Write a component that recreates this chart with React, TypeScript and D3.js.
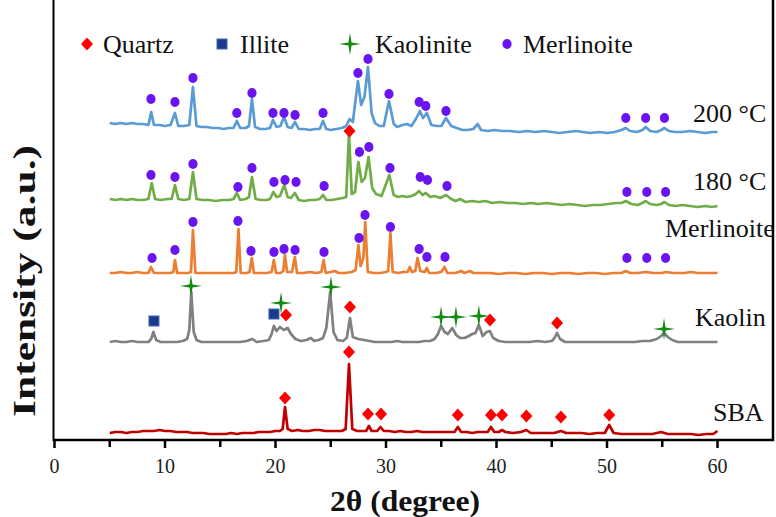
import * as d3 from "d3";
import React from "react";

const W = 776;
const H = 517;

// sample order, top to bottom
const samples = ["200 °C", "180 °C", "Merlinoite", "Kaolin", "SBA"];
const sampleColors = ["#5b9bd5", "#70ad47", "#ed7d31", "#808080", "#c00000"];
const sampleOffsets = [313, 240, 167, 98, 7];

const phases = ["Quartz", "Illite", "Kaolinite", "Merlinoite"];

// [2theta, relative intensity]
const trace200 = [
  [5, 4], [5.5, 3], [6, 4], [6.5, 3], [7, 4], [7.5, 3], [8, 3], [8.5, 2], [8.75, 15], [9.0, 2], [9.5, 2], [10, 1],
  [10.5, 2], [10.9, 14], [11.2, 1], [11.7, 1], [12.2, 2], [12.53, 40], [12.85, 1], [13.3, 0], [13.8, 0], [14.3, -1],
  [14.8, -1], [15.3, -2], [15.8, -1], [16.2, -1], [16.5, 6], [16.8, -1], [17.3, -1], [17.6, 1], [17.87, 28], [18.15, 0],
  [18.6, -2], [19.1, -2], [19.5, -1], [19.77, 7], [20.1, 0], [20.45, 1], [20.77, 10], [21.1, 0], [21.45, -1], [21.77, 5],
  [22.1, -2], [22.6, -2], [23.1, -3], [23.6, -2], [24.0, -2], [24.3, 6], [24.6, -2], [25.0, -3], [25.5, -2], [26.0, -1],
  [26.4, 1], [26.7, 8], [27.0, 5], [27.46, 46], [27.75, 22], [28.05, 30], [28.37, 60], [28.7, 14], [29.0, 4], [29.4, 1],
  [29.8, 1], [30.27, 26], [30.7, 3], [31.0, 0], [31.5, 2], [31.9, 3], [32.3, 1], [32.7, 8], [33.07, 16], [33.35, 9],
  [33.7, 14], [34.1, 2], [34.6, 1], [35.0, 1], [35.43, 9], [35.9, 1], [36.4, -1], [36.9, -3], [37.4, -3], [37.9, -2],
  [38.3, 3], [38.6, -3], [39.2, -4], [39.8, -3], [40.5, -4], [41.2, -4], [42.0, -5], [42.8, -4], [43.5, -5], [44.3, -4],
  [45.0, -5], [45.7, -6], [46.4, -5], [47.2, -4], [47.8, -5], [48.5, -6], [49.3, -5], [50.0, -6], [50.7, -5], [51.3, -3],
  [51.7, -1], [52.1, -4], [52.7, -5], [53.2, -3], [53.5, 0], [53.9, -4], [54.5, -5], [54.9, -3], [55.2, -1], [55.6, -4],
  [56.2, -5], [56.8, -5], [57.5, -4], [58.2, -5], [58.9, -6], [59.5, -5], [60, -5],
];

const trace180 = [
  [5, 1], [5.5, 0], [6, 1], [6.5, 0], [7, 1], [7.5, 0], [8, 0], [8.5, 1], [8.8, 17], [9.1, 1], [9.6, 0], [10.2, 1],
  [10.6, 1], [10.9, 15], [11.2, 1], [11.7, 0], [12.2, 1], [12.53, 28], [12.85, 1], [13.4, 0], [14, 0], [14.6, -1],
  [15.2, 0], [15.8, 0], [16.2, 1], [16.5, 7], [16.8, 0], [17.3, 1], [17.6, 3], [17.87, 23], [18.2, 1], [18.7, 0],
  [19.2, 0], [19.5, 1], [19.8, 8], [20.1, 3], [20.4, 4], [20.8, 15], [21.1, 3], [21.4, 2], [21.75, 7], [22.1, 0],
  [22.6, -1], [23.1, 0], [23.6, 0], [24.0, 1], [24.3, 5], [24.6, 0], [25.1, 0], [25.6, 1], [26.1, 2], [26.4, 3],
  [26.65, 67], [26.9, 6], [27.2, 8], [27.5, 38], [27.8, 18], [28.1, 22], [28.42, 43], [28.75, 12], [29.1, 6], [29.6, 4],
  [30.3, 25], [30.7, 5], [31.1, 3], [31.5, 4], [31.9, 3], [32.3, 4], [32.7, 6], [33.0, 9], [33.3, 5], [33.6, 7],
  [34.0, 3], [34.4, 4], [34.9, 2], [35.43, 5], [35.9, 1], [36.3, -1], [36.7, 1], [37.2, -2], [37.8, -1], [38.4, -2],
  [39.0, -1], [39.6, -3], [40.3, -2], [41.0, -3], [41.7, -3], [42.4, -4], [43.1, -3], [43.8, -4], [44.5, -3], [45.2, -4],
  [45.9, -5], [46.6, -4], [47.3, -5], [48.0, -6], [48.7, -5], [49.4, -5], [50.1, -4], [50.8, -3], [51.3, -3], [51.7, -1],
  [52.2, -4], [52.8, -5], [53.2, -3], [53.5, -1], [53.9, -4], [54.5, -5], [54.9, -4], [55.2, -2], [55.6, -5], [56.2, -6],
  [56.8, -5], [57.5, -6], [58.2, -7], [58.9, -6], [59.5, -7], [60, -6],
];

const traceMerl = [
  [5, 0], [5.5, 0], [6, 1], [6.5, 0], [7, 0], [7.5, 1], [8, 0], [8.5, 0], [8.73, 6], [9.0, 0], [9.5, 0], [10, 0],
  [10.5, 0], [10.75, 1], [10.9, 13], [11.1, 0], [11.6, 0], [12.1, 0], [12.35, 1], [12.53, 43], [12.75, 0], [13.3, 0],
  [13.9, 0], [14.5, 0], [15.1, 0], [15.7, 0], [16.2, 0], [16.45, 1], [16.65, 44], [16.85, 0], [17.4, 0], [17.65, 1],
  [17.85, 15], [18.05, 0], [18.6, 0], [19.2, 0], [19.65, 1], [19.85, 13], [20.05, 0], [20.45, 0], [20.7, 2], [20.85, 18],
  [21.05, 1], [21.5, 1], [21.75, 16], [21.95, 0], [22.5, 0], [23.1, 1], [23.7, 0], [24.15, 1], [24.35, 13], [24.55, 0],
  [25.0, 1], [25.4, 2], [25.7, 0], [26.3, 0], [26.9, 1], [27.25, 3], [27.5, 28], [27.7, 7], [27.95, 15], [28.12, 51],
  [28.35, 1], [28.9, 0], [29.5, 0], [30.0, 1], [30.2, 2], [30.4, 40], [30.6, 1], [31.1, 0], [31.6, 1], [31.95, 1],
  [32.15, 6], [32.35, 1], [32.65, 2], [32.85, 15], [33.1, 2], [33.5, 1], [33.7, 5], [33.9, 0], [34.5, 0], [35.0, 1],
  [35.3, 6], [35.55, 0], [36.3, 0], [36.8, 2], [37.1, 0], [37.6, 2], [37.9, 0], [38.6, 0], [39.4, 0], [40.2, -1],
  [41.0, 0], [41.8, 0], [42.6, -1], [43.4, 0], [44.2, 0], [45.0, -1], [45.8, 0], [46.6, 0], [47.4, -1], [48.2, 0],
  [49.0, 0], [49.8, -1], [50.6, 0], [51.3, 0], [51.7, 2], [52.1, 0], [52.8, 0], [53.5, 1], [54.2, 0], [55.0, 0],
  [55.3, 1], [56, 0], [57, 0], [57.6, 1], [58.2, 0], [59, 0], [60, 0],
];

const traceKaolin = [
  [5, 0], [5.5, 1], [6, 0], [6.5, 0], [7, 1], [7.5, 0], [8, 0], [8.5, 0], [8.75, 3], [8.95, 10], [9.2, 2], [9.6, 0],
  [10.1, 0], [10.6, 0], [11.1, 0], [11.6, 1], [12.0, 3], [12.2, 12], [12.38, 50], [12.6, 10], [12.85, 2], [13.3, 0],
  [13.8, 0], [14.4, 0], [15.0, 0], [15.6, 0], [16.2, 0], [16.8, 0], [17.4, 1], [17.9, 3], [18.3, 0], [18.9, 1],
  [19.4, 2], [19.65, 8], [19.85, 16], [20.1, 11], [20.4, 15], [20.75, 12], [21.1, 14], [21.4, 8], [21.8, 3], [22.3, 1],
  [22.8, 2], [23.2, 4], [23.5, 1], [23.9, 2], [24.3, 4], [24.6, 14], [24.95, 50], [25.25, 10], [25.6, 2], [26.1, 1],
  [26.45, 4], [26.74, 24], [27.0, 5], [27.5, 3], [28.0, 2], [28.5, 1], [29.0, 0], [29.5, 0], [30.0, 0], [30.5, 0],
  [31.0, 1], [31.5, 0], [32.0, 0], [32.5, 0], [33.0, 0], [33.5, 1], [34.0, 1], [34.4, 3], [34.7, 8], [34.98, 16],
  [35.3, 10], [35.6, 8], [36.0, 14], [36.35, 7], [36.7, 4], [37.1, 4], [37.5, 6], [37.8, 8], [38.1, 9], [38.4, 17],
  [38.75, 6], [39.1, 10], [39.4, 11], [39.7, 4], [40.2, 1], [40.8, 0], [41.5, 0], [42.2, 0], [43.0, 0], [43.7, 1],
  [44.4, 0], [45.0, 1], [45.25, 4], [45.48, 9], [45.75, 3], [46.2, 0], [46.9, 0], [47.6, 0], [48.3, 0], [49.0, 0],
  [49.7, 0], [50.4, 0], [51.1, 0], [51.8, 0], [52.5, 0], [53.2, 1], [53.9, 1], [54.5, 3], [54.9, 6], [55.16, 9],
  [55.5, 5], [55.9, 2], [56.4, 0], [57.0, 0], [57.7, 0], [58.4, 0], [59.1, 0], [60, 0],
];

const traceSBA = [
  [5, 0], [5.5, 1], [6, 1], [6.5, 0], [7, 1], [7.5, 1], [8, 2], [8.5, 2], [9, 2], [9.5, 3], [10, 2], [10.5, 2],
  [11, 1], [11.5, 1], [12, 1], [12.5, 0], [13, 0], [13.5, 0], [14, -1], [14.5, -1], [15, -1], [15.5, -1], [16, 0],
  [16.5, -1], [17, 0], [17.5, 0], [18, 0], [18.5, 1], [19, 1], [19.5, 1], [20, 2], [20.4, 2], [20.65, 4], [20.86, 26],
  [21.1, 4], [21.5, 2], [22, 3], [22.5, 2], [23, 2], [23.5, 3], [24, 3], [24.5, 2], [25, 2], [25.5, 2], [26, 2],
  [26.35, 4], [26.65, 69], [26.95, 4], [27.4, 2], [27.9, 2], [28.2, 2], [28.45, 7], [28.7, 2], [29.2, 2], [29.5, 6],
  [29.8, 2], [30.3, 2], [30.8, 1], [31.3, 2], [31.8, 1], [32.3, 1], [32.8, 2], [33.3, 1], [33.8, 1], [34.3, 1],
  [34.8, 1], [35.3, 1], [35.8, 1], [36.2, 1], [36.5, 6], [36.8, 1], [37.3, 1], [37.8, 0], [38.3, 1], [38.8, 1],
  [39.2, 1], [39.5, 6], [39.8, 1], [40.2, 1], [40.5, 3], [40.8, 1], [41.5, 0], [42.2, 1], [42.7, 3], [43.1, 0],
  [43.8, 0], [44.5, 0], [45.2, 0], [45.85, 2], [46.3, 0], [47, 0], [47.7, 0], [48.4, -1], [49.1, 0], [49.8, 0],
  [50.2, 8], [50.6, 0], [51.3, -1], [52.0, -1], [52.7, -1], [53.4, -1], [54.1, -1], [54.9, 1], [55.5, -1], [56.2, -1],
  [56.9, -1], [57.6, -1], [58.3, -2], [59, -1], [59.6, -1], [60, 2],
];

const traces = [trace200, trace180, traceMerl, traceKaolin, traceSBA];

// phase markers: [2theta, relative height] per sample
const merl200 = [
  [8.73, 28], [10.9, 25], [12.53, 49], [16.5, 14], [17.87, 34], [19.77, 14], [20.77, 14], [21.77, 12], [24.3, 14],
  [27.46, 54], [28.37, 68], [30.27, 33], [33.0, 25], [33.6, 21], [35.43, 16], [51.7, 9], [53.5, 9], [55.2, 9],
];
const merl180 = [
  [8.73, 25], [10.9, 23], [12.53, 36], [16.6, 13], [17.87, 32], [19.86, 18], [20.86, 20], [21.86, 18], [24.4, 14],
  [27.6, 48], [28.45, 53], [30.36, 32], [33.1, 23], [33.75, 20], [35.52, 14], [51.8, 8], [53.6, 8], [55.3, 8],
];
const merlRef = [
  [8.83, 15], [10.9, 23], [12.53, 51], [16.6, 52], [17.78, 22], [19.86, 21], [20.77, 24], [21.77, 23], [24.39, 21],
  [27.56, 35], [28.1, 58], [30.4, 46], [33.0, 24], [33.7, 16], [35.34, 16], [51.8, 15], [53.6, 15], [55.3, 15],
];
const quartz180 = [[26.7, 69]];
const illiteKaolin = [[9.0, 21], [19.86, 28]];
const kaoliniteKaolin = [
  [12.35, 56], [20.5, 39], [25.02, 55], [34.98, 25], [36.33, 25], [38.4, 26], [55.16, 13],
];
const quartzKaolin = [[20.95, 27], [26.74, 35], [39.41, 22], [45.48, 19]];
const quartzSBA = [
  [20.86, 35], [26.65, 81], [28.37, 19], [29.55, 19], [36.5, 18], [39.5, 18], [40.5, 18], [42.7, 17], [45.83, 16],
  [50.2, 18],
];

const markerSets = [
  { sample: 0, phase: "Merlinoite", pts: merl200 },
  { sample: 1, phase: "Merlinoite", pts: merl180 },
  { sample: 1, phase: "Quartz", pts: quartz180 },
  { sample: 2, phase: "Merlinoite", pts: merlRef },
  { sample: 3, phase: "Illite", pts: illiteKaolin },
  { sample: 3, phase: "Kaolinite", pts: kaoliniteKaolin },
  { sample: 3, phase: "Quartz", pts: quartzKaolin },
  { sample: 4, phase: "Quartz", pts: quartzSBA },
];

const xTicks = [0, 10, 20, 30, 40, 50, 60];
const xMinorTicks = [5, 15, 25, 35, 45, 55];

const SERIF = "'Liberation Serif', 'Times New Roman', serif";

const starPath = (R: number, r: number) => {
  const pts: string[] = [];
  for (let i = 0; i < 8; i++) {
    const a = (Math.PI / 4) * i - Math.PI / 2;
    const rad = i % 2 === 0 ? R : r;
    pts.push(`${(rad * Math.cos(a)).toFixed(2)},${(rad * Math.sin(a)).toFixed(2)}`);
  }
  return "M" + pts.join("L") + "Z";
};

const Marker = ({ phase, x, y }: { phase: string; x: number; y: number }) => {
  if (phase === "Quartz")
    return <path d="M0,-6.5L6,0L0,6.5L-6,0Z" transform={`translate(${x},${y})`} fill="#ff0000" />;
  if (phase === "Illite")
    return (
      <rect x={x - 5} y={y - 5} width={10} height={10} fill="#1c3a8c" stroke="#3f64b8" strokeWidth={1} />
    );
  if (phase === "Kaolinite")
    return <path d={starPath(11, 2.2)} transform={`translate(${x},${y})`} fill="#138a13" />;
  return <ellipse cx={x} cy={y} rx={4.6} ry={5} fill="#6a14f2" />;
};

const App = () => {
  const x = d3.scaleLinear().domain([0, 60]).range([54.5, 717.5]);
  const y = d3.scaleLinear().domain([0, 440]).range([440, 0]);
  const axisY = y(0);

  const line = (off: number) =>
    d3
      .line<number[]>()
      .x((d) => x(d[0]))
      .y((d) => y(d[1] + off))
      .curve(d3.curveLinear);

  const legendX = [87, 222, 350, 507];
  const legendTextX = [103, 240, 375, 523];

  // label anchors (px) for sample names
  const labelPos = [
    [693, 122],
    [693, 190],
    [665, 237],
    [695, 326],
    [713, 421],
  ];

  return (
    <svg
      width={W}
      height={H}
      style={{ position: "absolute", left: 0, top: 0, background: "#fff" }}
      fontFamily={SERIF}
    >
      <defs>
        <clipPath id="plotClip">
          <rect x={0} y={0} width={772} height={H} />
        </clipPath>
      </defs>
      <rect width={W} height={H} fill="#fff" />

      {/* legend */}
      {phases.map((p, i) => (
        <g key={p}>
          <Marker phase={p} x={legendX[i]} y={44} />
          <text x={legendTextX[i]} y={53} fontSize={26} fill="#111">
            {p}
          </text>
        </g>
      ))}

      <g clipPath="url(#plotClip)">
        {traces.map((t, i) => (
          <path
            key={samples[i]}
            d={line(sampleOffsets[i])(t) || ""}
            fill="none"
            stroke={sampleColors[i]}
            strokeWidth={2.7}
            strokeLinejoin="round"
          />
        ))}
        {markerSets.map((m, k) =>
          m.pts.map((p, j) => (
            <Marker key={`${k}-${j}`} phase={m.phase} x={x(p[0])} y={y(p[1] + sampleOffsets[m.sample])} />
          ))
        )}
        {samples.map((s, i) => (
          <text key={s} x={labelPos[i][0]} y={labelPos[i][1]} fontSize={26} fill="#111">
            {s}
          </text>
        ))}
      </g>

      {/* frame and x axis */}
      <line x1={53.5} x2={53.5} y1={0} y2={axisY + 1} stroke="#000" strokeWidth={2} />
      <line x1={773} x2={773} y1={0} y2={axisY + 1} stroke="#000" strokeWidth={2.5} />
      <line x1={53} x2={774} y1={axisY} y2={axisY} stroke="#000" strokeWidth={2.5} />
      {xTicks.map((t) => (
        <g key={t}>
          <line x1={x(t)} x2={x(t)} y1={axisY} y2={axisY + 8} stroke="#000" strokeWidth={2.5} />
          <text x={x(t)} y={473} fontSize={20} textAnchor="middle" fill="#222">
            {t}
          </text>
        </g>
      ))}
      {xMinorTicks.map((t) => (
        <line key={t} x1={x(t)} x2={x(t)} y1={axisY} y2={axisY + 7} stroke="#000" strokeWidth={2.5} />
      ))}

      <text
        x={405}
        y={511}
        fontSize={30}
        fontWeight="bold"
        textAnchor="middle"
        textLength={150}
        lengthAdjust="spacingAndGlyphs"
        fill="#111"
      >
        2θ (degree)
      </text>
      <text
        transform="translate(35,281) rotate(-90)"
        fontSize={32}
        fontWeight="bold"
        textAnchor="middle"
        textLength={272}
        lengthAdjust="spacingAndGlyphs"
        fill="#111"
      >
        Intensity (a.u.)
      </text>
    </svg>
  );
};

export default App;
